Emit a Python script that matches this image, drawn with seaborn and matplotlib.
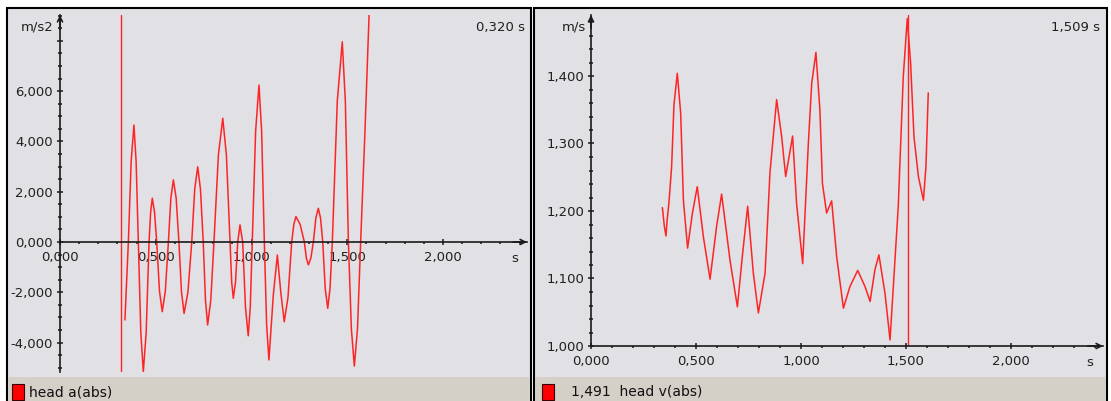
import matplotlib
matplotlib.use('Agg')
import matplotlib.pyplot as plt
import seaborn as sns
import pandas as pd
from matplotlib.patches import Rectangle
from matplotlib.ticker import MultipleLocator, FuncFormatter

# ---------------- data ----------------
accel_t = [0.339, 0.357, 0.3715, 0.386, 0.3975, 0.409, 0.422, 0.435, 0.450, 0.465,
           0.4735, 0.482, 0.4935, 0.505, 0.5195, 0.534, 0.550, 0.566, 0.579, 0.592,
           0.6065, 0.621, 0.6345, 0.648, 0.668, 0.688, 0.7035, 0.719, 0.7335, 0.748,
           0.7595, 0.771, 0.7875, 0.804, 0.827, 0.850, 0.869, 0.888, 0.8965, 0.905,
           0.9165, 0.928, 0.940, 0.954, 0.9685, 0.983, 0.9935, 1.004, 1.0215, 1.039,
           1.053, 1.067, 1.079, 1.091, 1.114, 1.135, 1.153, 1.171, 1.1905, 1.210,
           1.221, 1.232, 1.254, 1.276, 1.2865, 1.297, 1.310, 1.323, 1.336, 1.349,
           1.3605, 1.372, 1.385, 1.398, 1.410, 1.422, 1.448, 1.474, 1.490, 1.506,
           1.5215, 1.537, 1.5535, 1.570, 1.592, 1.614]
accel_v = [-3.10, 0.0, 3.2, 4.65, 3.2, 0.0, -3.6, -5.16, -3.6, 0.0,
           1.2, 1.74, 1.2, 0.0, -1.95, -2.77, -1.95, 0.0, 1.75, 2.47,
           1.75, 0.0, -2.0, -2.84, -2.0, 0.0, 2.1, 2.99, 2.1, 0.0,
           -2.3, -3.30, -2.3, 0.0, 3.45, 4.92, 3.45, 0.0, -1.6, -2.24,
           -1.6, 0.0, 0.68, 0.0, -2.6, -3.73, -2.6, 0.0, 4.4, 6.24,
           4.4, 0.0, -3.3, -4.69, -2.1, -0.52, -2.0, -3.17, -2.2, 0.0,
           0.7, 1.01, 0.7, 0.0, -0.64, -0.91, -0.64, 0.0, 0.95, 1.34,
           0.95, 0.0, -1.85, -2.64, -1.85, 0.0, 5.6, 7.96, 5.6, 0.0,
           -3.45, -4.93, -3.45, 0.0, 4.3, 9.03]

vel_t = [0.340, 0.349, 0.357, 0.363, 0.371, 0.384, 0.395, 0.411, 0.427, 0.440,
         0.460, 0.483, 0.506, 0.535, 0.567, 0.598, 0.622, 0.662, 0.697, 0.722,
         0.746, 0.773, 0.797, 0.829, 0.852, 0.884, 0.908, 0.927, 0.960, 0.979,
         1.008, 1.035, 1.051, 1.071, 1.090, 1.102, 1.122, 1.146, 1.170, 1.202,
         1.233, 1.270, 1.305, 1.329, 1.352, 1.371, 1.400, 1.424, 1.463, 1.487,
         1.506, 1.522, 1.538, 1.559, 1.583, 1.595, 1.606]
vel_v = [1.205, 1.178, 1.163, 1.188, 1.212, 1.266, 1.357, 1.404, 1.345, 1.216,
         1.145, 1.197, 1.236, 1.162, 1.099, 1.177, 1.225, 1.127, 1.058, 1.137,
         1.207, 1.108, 1.049, 1.108, 1.256, 1.365, 1.310, 1.251, 1.311, 1.211,
         1.122, 1.300, 1.389, 1.435, 1.350, 1.241, 1.197, 1.215, 1.132, 1.056,
         1.088, 1.112, 1.088, 1.066, 1.113, 1.135, 1.078, 1.009, 1.206, 1.399,
         1.485, 1.419, 1.310, 1.251, 1.216, 1.266, 1.375]

cursor_t = [0.320, 1.509]
cursor_labels = ["0,320 s", "1,509 s"]
legend_labels = ["head a(abs)", "1,491  head v(abs)"]
units = ["m/s2", "m/s"]
x_ticks = [0.0, 0.5, 1.0, 1.5, 2.0]
accel_yticks = [-4.0, -2.0, 0.0, 2.0, 4.0, 6.0, 8.0]
vel_yticks = [1.0, 1.1, 1.2, 1.3, 1.4]

# ---------------- style ----------------
sns.set_theme(style='white')
plt.rcParams['font.family'] = ['DejaVu Sans']

W, H = 1111, 401
RED = '#ff2424'
AX = '#1a1a1a'
PANEL = '#e0e0e5'
STATUS = '#d4d0c8'

fig = plt.figure(figsize=(W / 100, H / 100), dpi=100, facecolor='white')


def fx(x):
    return x / W


def fy(y):
    return 1 - y / H


def rect(x0, y0, x1, y1, z=-5, **kw):
    r = Rectangle((fx(x0), fy(y1)), (x1 - x0) / W, (y1 - y0) / H,
                  transform=fig.transFigure, zorder=z, **kw)
    fig.add_artist(r)


def ftext(x, y, s, **kw):
    fig.text(fx(x), fy(y), s, **kw)


# panels
rect(6.5, 8, 530.5, 403, z=-6, facecolor=PANEL, edgecolor='black', linewidth=1.5)
rect(534, 8, 1106.5, 403, z=-6, facecolor=PANEL, edgecolor='black', linewidth=1.5)
rect(7.5, 377, 529.7, 401, z=-4, facecolor=STATUS, edgecolor='none')
rect(535, 377, 1105.7, 401, z=-4, facecolor=STATUS, edgecolor='none')


def fmt(v, p):
    return f"{v:.3f}".replace('.', ',').replace('-', '-')


def make_ax(l, r, t, b, xmax, ylo, yhi):
    ax = fig.add_axes([fx(l), fy(b), (r - l) / W, (b - t) / H])
    ax.set_facecolor('none')
    ax.set_xlim(0, xmax)
    ax.set_ylim(ylo, yhi)
    for s in ['top', 'right']:
        ax.spines[s].set_visible(False)
    for s in ['left', 'bottom']:
        ax.spines[s].set_color(AX)
        ax.spines[s].set_linewidth(1.2)
    ax.set_xticks(x_ticks)
    ax.xaxis.set_minor_locator(MultipleLocator(0.1))
    ax.xaxis.set_major_formatter(FuncFormatter(fmt))
    ax.tick_params(which='both', bottom=True, left=True, top=False, right=False, color=AX)
    ax.tick_params(which='major', direction='inout', length=4.5, width=1.1,
                   labelsize=9.5, labelcolor='#202020')
    ax.tick_params(axis='x', which='major', pad=4.5)
    ax.tick_params(axis='y', which='major', pad=2.8)
    ax.tick_params(axis='x', which='minor', direction='out', length=1.6, width=1.1)
    ax.tick_params(axis='y', which='minor', direction='inout', length=2.2, width=1.1)
    return ax


def arrows(ax, y0):
    ax.annotate('', xy=(1, y0), xytext=(0.97, y0), xycoords=('axes fraction', 'data'),
                arrowprops=dict(arrowstyle='->', color=AX, lw=1.2, shrinkA=0, shrinkB=0,
                                mutation_scale=9), annotation_clip=False)
    ax.annotate('', xy=(0, 1), xytext=(0, 0.96), xycoords=('data', 'axes fraction'),
                arrowprops=dict(arrowstyle='->', color=AX, lw=1.2, shrinkA=0, shrinkB=0,
                                mutation_scale=9), annotation_clip=False)


# ---- left panel: acceleration ----
ax1 = make_ax(60, 527, 15, 372, (527 - 60) / 191.5, (242 - 372) / 25.15, (242 - 15) / 25.15)
ax1.spines['bottom'].set_position(('data', 0))
ax1.set_yticks(accel_yticks)
ax1.yaxis.set_minor_locator(MultipleLocator(0.5))
ax1.yaxis.set_major_formatter(FuncFormatter(lambda v, p: '' if v > 7 else fmt(v, p)))
df_a = pd.DataFrame({'t': accel_t, 'v': accel_v})
sns.lineplot(data=df_a, x='t', y='v', ax=ax1, color=RED, linewidth=1.1,
             estimator=None, sort=False, legend=False)
ax1.axvline(cursor_t[0], color=RED, linewidth=1.0)
ax1.set_xlabel('')
ax1.set_ylabel('')
arrows(ax1, 0)

# ---- right panel: velocity ----
ax2 = make_ax(591, 1103, 15, 346, (1103 - 591) / 210.0, 1.0, 1.0 + (346 - 15) / 675.0)
ax2.set_yticks(vel_yticks)
ax2.yaxis.set_minor_locator(MultipleLocator(0.02))
ax2.yaxis.set_major_formatter(FuncFormatter(fmt))
df_v = pd.DataFrame({'t': vel_t, 'v': vel_v})
sns.lineplot(data=df_v, x='t', y='v', ax=ax2, color=RED, linewidth=1.1,
             estimator=None, sort=False, legend=False)
ax2.axvline(cursor_t[1], color=RED, linewidth=1.0)
ax2.set_xlabel('')
ax2.set_ylabel('')
arrows(ax2, 1.0)

# ---- texts ----
TXT = '#202020'
ftext(54, 27, units[0], ha='right', va='center', fontsize=9.5, color=TXT)
ftext(586, 27, units[1], ha='right', va='center', fontsize=9.5, color=TXT)
ftext(515, 259, 's', ha='center', va='center', fontsize=9.5, color=TXT)
ftext(1090, 363, 's', ha='center', va='center', fontsize=9.5, color=TXT)
ftext(525, 27, cursor_labels[0], ha='right', va='center', fontsize=9.5, color=TXT)
ftext(1100, 27, cursor_labels[1], ha='right', va='center', fontsize=9.5, color=TXT)

# status bar legend
rect(12, 384, 24, 400, z=-3, facecolor='#ff0000', edgecolor='#3a0000', linewidth=0.8)
rect(542, 384, 554, 400, z=-3, facecolor='#ff0000', edgecolor='#3a0000', linewidth=0.8)
ftext(29, 392, legend_labels[0], ha='left', va='center', fontsize=10, color='#101010')
ftext(571, 392, legend_labels[1], ha='left', va='center', fontsize=10, color='#101010')

fig.savefig('out.png', dpi=100, facecolor='white')
